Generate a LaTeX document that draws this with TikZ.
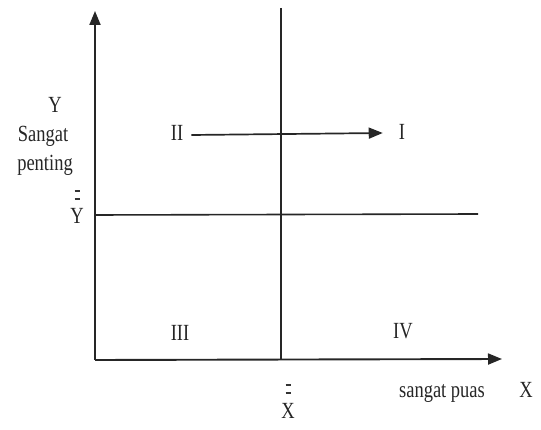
\documentclass[tikz,border=0pt]{standalone}
\usepackage{fontspec}
\setmainfont{Liberation Serif}
\usetikzlibrary{arrows.meta}
\tikzset{
  axis/.style={line width=1.9pt, draw=black!85, -{Triangle[length=14pt,width=11pt]}},
  guide/.style={line width=1.6pt, draw=black!85},
  lbl/.style={anchor=base, inner sep=0pt, text=black!85, font=\fontsize{18.5}{18.5}\selectfont},
  barline/.style={line width=1.1pt, draw=black!80},
}
\newcommand{\tall}[1]{\scalebox{1}[1.25]{#1}}
\begin{document}
\begin{tikzpicture}[x=1pt,y=-1pt]
\useasboundingbox (0,0) rectangle (541,430);
\coordinate (o) at (95,360);
\coordinate (ytip) at (95,11);
\coordinate (xtip) at (502,359);
\coordinate (vtop) at (281,8);
\coordinate (vbot) at (281,360);
\coordinate (hl) at (95,215);
\coordinate (hr) at (478,214);
\draw[axis] (o) -- (ytip);
\draw[axis] (o) -- (xtip);
\draw[guide] (vtop) -- (vbot);
\draw[guide] (hl) -- (hr);
% labels
\node[lbl] (ylab) at (55,113) {\tall{Y}};
\node[lbl] (sangat) at (43,142) {\tall{Sangat}};
\node[lbl] (penting) at (45,171) {\tall{penting}};
\node[lbl] (ybar) at (77,224) {\tall{Y}};
\node[lbl] (ii) at (177,141) {\tall{II}};
\node[lbl] (i) at (402,140) {\tall{I}};
\node[lbl] (iii) at (180,341) {\tall{III}};
\node[lbl] (iv) at (403,338) {\tall{IV}};
\node[lbl] (puas) at (442,397) {\tall{sangat puas}};
\node[lbl] (xlab) at (526,397) {\tall{X}};
\node[lbl] (xbar) at (288,418) {\tall{X}};
% double bars
\draw[barline] ([yshift=25pt]ybar.base) ++(-2.5,0) -- ++(5,0);
\draw[barline] ([yshift=33pt]ybar.base) ++(-2.5,0) -- ++(5,0);
\draw[barline] ([yshift=25pt]xbar.base) ++(-2.5,0) -- ++(5,0);
\draw[barline] ([yshift=33pt]xbar.base) ++(-2.5,0) -- ++(5,0);
% arrow II -> I
\draw[axis, line width=1.7pt] ([xshift=8pt,yshift=6pt]ii.base east) -- ([xshift=-16pt,yshift=7pt]i.base west);
\end{tikzpicture}
\end{document}
